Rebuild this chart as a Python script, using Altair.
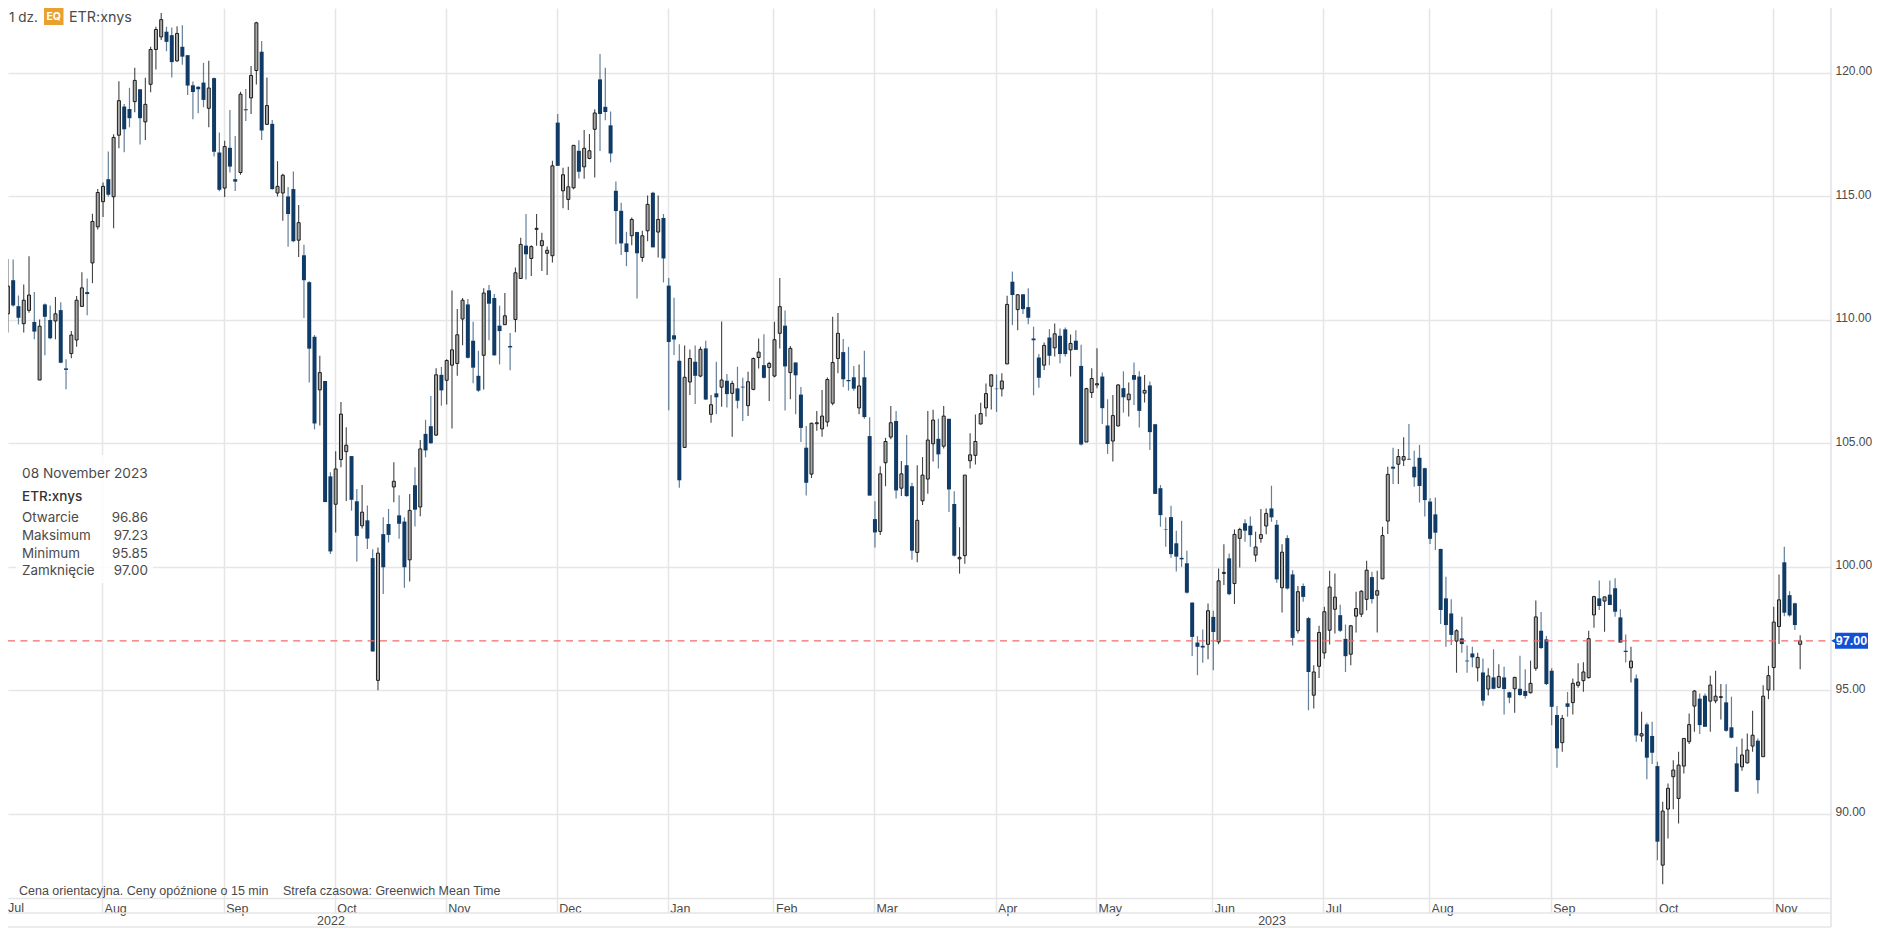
import json
import altair as alt
import pandas as pd

highs = [
115.3,114.99,112.46,112.44,110.98,111.43,112.57,111.12,110.01,110.66,
110.58,110.92,110.71,108.40,109.54,110.96,111.92,111.67,114.29,115.29,
115.56,116.81,117.51,119.65,118.73,119.39,120.20,119.34,119.80,121.05,
121.86,122.42,121.86,121.83,121.88,121.92,120.71,119.64,119.46,120.40,
120.48,119.81,117.58,117.25,118.49,117.44,119.23,119.34,120.27,122.06,
121.28,119.81,118.09,116.42,115.91,115.37,116.00,114.64,113.04,111.56,
109.38,108.54,107.52,103.83,104.68,106.67,105.65,104.48,103.15,103.31,
102.48,100.71,100.78,102.00,102.34,104.23,102.89,102.00,102.95,104.03,
105.13,105.95,106.91,108.04,108.09,108.40,111.18,110.43,110.88,110.84,
109.92,108.74,111.27,111.41,111.04,110.57,111.08,109.46,112.11,113.32,
114.28,113.02,114.28,113.52,112.96,116.44,118.33,116.15,116.19,117.07,
117.27,117.68,117.52,118.52,120.76,120.20,118.43,115.60,114.74,113.56,
114.14,113.56,113.60,115.03,115.18,115.03,114.28,111.69,110.89,109.01,
108.96,108.80,108.96,108.91,109.15,106.95,108.30,109.93,107.80,107.53,
108.10,107.65,107.89,108.47,109.24,109.41,108.30,109.92,111.69,110.37,
108.94,108.27,107.28,105.70,105.83,106.31,107.16,107.66,110.12,110.27,
109.22,108.90,108.13,108.19,108.74,106.05,102.65,104.07,105.22,106.51,
106.31,104.28,105.33,103.40,104.11,104.44,106.31,106.36,105.99,106.51,
105.99,103.06,101.60,103.71,105.40,106.16,106.64,107.42,107.78,107.78,
107.83,110.97,111.95,111.04,111.04,111.27,109.72,108.61,109.08,109.62,
109.85,109.65,109.69,109.40,109.57,108.99,107.25,108.04,108.85,107.86,
106.78,106.95,107.39,107.91,107.46,108.27,107.91,107.76,107.50,105.77,
103.31,102.00,102.47,101.46,101.86,100.65,98.55,97.19,97.46,98.51,
98.22,99.93,100.91,100.54,101.51,101.58,101.92,102.03,101.42,102.34,
102.36,103.28,101.89,100.91,101.28,99.86,99.22,99.32,97.97,96.01,
97.61,98.38,99.84,99.73,98.46,97.66,97.64,98.99,99.05,100.24,
99.80,99.84,101.62,104.05,104.82,104.77,105.24,105.78,104.70,104.93,
104.01,102.77,102.80,100.73,99.60,98.68,97.47,97.98,96.81,96.76,
96.52,96.29,95.89,96.66,96.05,95.95,94.94,95.55,96.40,95.85,
96.20,98.63,98.17,97.20,95.89,94.36,94.00,94.93,95.48,96.09,
96.13,97.41,98.83,99.44,98.79,99.44,99.53,98.28,97.26,96.76,
95.64,94.13,93.69,93.73,92.11,90.49,91.23,92.17,92.51,93.05,
94.06,95.01,94.87,94.87,95.59,95.79,95.25,95.24,94.74,92.71,
93.05,93.25,94.17,93.05,95.20,95.99,98.38,99.69,100.81,99.01,
98.54,97.23]

body_tops = [
115.2,114.70,111.36,111.60,110.55,110.79,111.00,109.91,109.74,110.62,
109.99,110.24,110.39,108.03,109.38,110.79,111.29,111.12,113.98,115.15,
115.40,115.69,117.38,118.87,118.63,118.53,119.69,119.33,118.72,120.94,
121.75,122.15,121.66,121.52,121.59,121.05,120.71,119.49,119.43,119.60,
119.38,119.78,116.77,117.01,116.96,115.69,119.13,118.52,119.89,122.02,
120.85,118.67,117.93,115.40,115.85,114.99,115.29,113.93,112.61,111.52,
109.31,107.86,107.52,103.66,103.96,106.18,104.92,104.48,102.65,102.21,
101.88,100.35,100.55,101.32,101.73,103.46,102.08,101.83,102.28,103.30,
104.77,105.38,105.69,107.77,107.77,108.35,108.78,109.39,110.79,110.62,
109.15,107.73,111.08,111.19,110.88,109.76,110.16,108.94,111.90,113.05,
113.00,112.96,113.70,113.20,112.81,116.23,117.98,115.87,115.38,117.06,
116.84,116.94,116.84,118.37,119.73,118.62,117.87,115.22,114.41,113.09,
114.06,113.55,113.40,114.67,115.14,114.06,114.12,111.38,109.37,108.34,
107.67,108.43,108.30,108.80,108.84,106.56,107.02,107.56,107.53,107.42,
107.22,107.29,107.49,108.43,108.69,108.16,108.23,109.19,110.53,109.76,
108.84,108.27,106.97,104.82,105.81,105.83,106.10,107.58,108.27,109.45,
108.69,107.56,107.67,107.32,107.67,105.29,101.93,103.76,105.07,105.83,
105.90,103.76,104.11,103.26,101.88,103.71,105.13,105.94,105.18,106.10,
105.99,102.54,100.38,103.71,104.53,105.07,106.20,107.01,107.77,107.21,
107.52,110.62,111.54,111.01,111.03,110.51,109.24,108.47,108.96,109.28,
109.43,109.35,109.61,109.04,109.15,108.13,107.21,107.62,107.41,107.70,
105.72,106.12,107.36,107.23,106.99,107.76,107.70,107.14,107.34,105.77,
103.18,101.51,102.01,100.95,100.36,100.14,98.55,96.93,96.80,98.22,
97.97,99.43,99.77,100.34,101.31,101.51,101.76,101.66,100.80,101.30,
102.16,102.36,101.70,100.59,101.16,99.69,98.99,99.22,97.92,95.74,
97.34,98.18,99.18,98.77,98.04,97.08,97.61,98.31,99.01,99.86,
99.58,99.03,101.26,103.74,104.05,104.46,104.46,104.37,104.05,104.41,
103.99,102.64,102.12,100.72,98.72,98.11,97.41,97.10,96.20,96.49,
96.33,95.72,95.58,95.52,95.56,95.52,94.92,95.52,95.06,94.97,
95.28,97.97,97.41,97.06,95.79,94.00,93.86,94.47,95.28,95.33,
95.74,97.09,98.79,98.72,98.78,98.87,99.13,97.95,96.60,96.18,
95.48,93.24,93.62,93.15,91.93,90.11,91.03,91.77,91.97,93.05,
93.61,94.97,94.66,94.78,95.21,94.76,94.74,94.51,93.50,92.04,
92.38,92.58,93.18,92.96,94.76,95.59,97.76,98.66,100.18,98.85,
98.52,97.00]

body_bottoms = [
112.9,109.77,110.24,110.58,110.08,109.84,110.38,109.52,107.56,110.12,
109.25,109.95,108.26,107.97,108.63,109.18,110.54,111.04,112.30,113.76,
114.78,115.06,114.98,117.47,117.71,118.16,118.83,118.16,118.01,119.53,
120.94,121.45,121.25,120.43,120.48,120.65,119.48,119.22,119.33,118.90,
118.56,116.80,115.26,115.33,116.20,115.59,115.96,118.48,118.98,120.09,
117.66,117.91,115.29,115.13,115.13,114.28,113.18,113.22,111.60,108.83,
105.80,107.16,102.62,100.62,102.53,104.34,104.66,102.71,101.25,101.66,
101.14,96.57,95.40,99.98,101.29,103.23,101.74,99.98,100.28,102.31,
102.42,104.71,105.00,105.33,107.14,107.55,108.16,108.23,110.03,108.46,
108.06,107.13,108.56,110.65,108.56,109.54,109.80,108.88,110.01,111.67,
112.65,112.48,113.66,113.00,112.69,112.59,116.23,115.22,114.87,115.34,
115.99,116.19,116.53,117.71,118.33,118.41,116.73,114.40,113.09,112.74,
113.40,112.69,112.52,113.60,112.93,113.55,112.48,109.10,109.20,103.50,
104.83,107.48,107.73,107.72,106.77,106.17,106.86,107.27,106.99,107.02,
106.72,107.26,106.52,107.18,108.47,107.65,108.07,107.72,109.45,108.11,
107.86,107.75,105.62,103.40,103.75,105.79,105.58,105.86,106.62,108.43,
107.59,107.51,107.21,106.43,106.06,102.88,101.39,101.43,104.21,105.25,
103.09,103.18,102.86,100.65,100.58,102.67,103.55,104.98,104.55,104.88,
103.13,100.45,100.32,100.45,104.29,104.51,105.78,106.43,107.31,107.19,
107.20,108.21,111.00,110.41,110.43,110.08,109.17,107.65,108.16,108.54,
108.86,108.61,108.61,108.78,108.78,104.95,105.05,107.05,107.36,106.42,
104.97,105.09,105.70,106.86,106.76,107.57,106.31,107.03,105.45,102.95,
102.09,101.49,100.51,100.41,100.30,98.95,97.16,96.76,96.73,96.86,
97.36,96.96,99.73,98.89,99.32,101.15,101.46,101.28,100.47,101.14,
101.65,102.00,99.49,99.15,99.12,97.12,97.41,98.78,95.74,94.80,
95.97,96.51,97.43,98.28,97.41,96.38,96.46,98.00,98.08,98.68,
98.69,98.85,99.51,101.85,103.97,104.15,104.32,104.34,103.62,103.27,
102.70,101.13,101.38,98.25,97.64,97.24,96.99,96.87,96.17,96.33,
95.91,94.58,95.05,95.06,95.12,95.05,94.70,95.06,94.81,94.77,
94.90,95.89,96.71,95.25,94.33,92.65,92.88,94.33,94.50,95.20,
95.39,95.51,98.05,98.41,98.61,98.45,98.18,96.93,96.55,95.91,
93.17,93.15,92.27,92.47,88.87,87.92,90.19,91.50,90.62,91.93,
92.92,94.36,93.59,93.52,94.56,94.57,94.71,93.36,93.08,90.89,
91.90,92.06,92.74,91.36,92.31,95.01,95.92,97.58,98.14,98.03,
97.64,96.86]

lows = [
112.8,108.36,109.48,110.53,109.81,109.48,110.28,109.21,107.56,108.56,
109.21,109.21,108.24,107.19,108.44,108.91,110.54,110.18,111.48,113.65,
114.16,114.99,113.70,116.94,116.78,117.79,118.40,117.09,117.28,119.21,
120.13,121.32,120.87,119.81,120.44,120.32,119.10,118.12,118.36,118.60,
117.79,116.61,115.20,114.97,115.96,115.21,115.87,118.05,118.33,119.52,
117.28,117.89,115.26,114.99,114.01,112.95,113.14,112.54,110.07,107.46,
105.56,105.72,102.61,100.52,101.39,104.03,102.66,102.27,100.21,101.55,
100.72,96.57,95.00,98.90,100.98,102.61,101.13,99.15,99.40,101.63,
102.04,104.43,104.98,105.29,106.52,106.57,105.60,107.73,108.97,108.43,
107.43,107.08,107.18,109.17,108.54,108.19,109.80,107.96,109.49,111.65,
111.63,111.77,113.00,111.97,111.81,112.32,116.23,114.51,114.44,115.28,
115.72,115.71,116.50,115.76,116.83,118.08,116.37,113.06,112.62,112.17,
113.02,110.86,112.35,113.18,112.93,112.52,111.51,106.34,108.57,103.2,
104.83,106.95,106.59,107.67,106.75,105.83,106.18,106.48,106.45,105.26,
106.41,105.90,106.10,107.15,108.03,107.62,106.71,107.67,108.84,106.33,
106.78,106.17,105.05,102.88,103.59,105.51,105.26,105.67,106.54,107.83,
107.28,107.13,107.13,106.17,105.99,102.88,100.78,101.29,103.26,105.16,
102.76,102.86,102.83,100.28,100.18,102.50,102.96,104.26,103.98,104.79,
102.22,100.42,99.72,100.12,103.98,104.14,105.76,106.08,106.37,106.27,
106.89,108.21,109.78,109.57,110.23,109.82,106.94,107.25,107.97,108.16,
108.51,108.24,108.51,107.70,108.78,104.91,105.05,106.83,107.23,105.78,
104.57,104.26,105.68,106.24,106.08,106.55,105.64,106.65,104.73,102.95,
101.62,100.81,100.36,99.81,100.00,98.92,96.39,95.61,96.11,96.26,
95.81,96.86,99.26,98.85,98.49,99.97,101.01,100.81,100.20,100.97,
101.32,101.82,99.35,98.15,99.08,96.81,97.30,98.58,94.19,94.26,
95.50,96.28,96.85,97.30,97.36,95.74,96.01,97.34,97.97,98.24,
98.51,97.34,99.51,101.33,103.35,103.35,104.08,104.32,103.24,102.60,
102.03,100.92,100.68,97.68,96.76,96.83,95.71,96.52,95.71,95.93,
95.35,94.37,94.79,95.04,95.08,94.02,94.47,94.09,94.77,94.67,
94.87,95.79,96.67,95.21,93.58,91.86,92.51,93.93,94.02,95.10,
94.94,95.48,97.53,98.25,97.37,98.45,97.98,96.93,96.12,95.31,
92.92,92.92,91.40,92.01,88.12,87.15,89.00,90.18,89.61,91.63,
92.82,93.32,93.23,93.52,93.32,94.47,93.82,93.32,93.05,90.89,
91.74,92.04,92.51,90.82,92.31,94.64,94.99,96.87,98.00,97.98,
97.44,95.85]

directions = (
"UDUDDUUDUD" "DUDDUUUDUU" "UDUUDDUDUU" "UUDDUDDDDD" "UDDUDDUDUU" "DUDUUDDUDD"
"DUDDUUUDDU" "DDUDDUDDUD" "UDDUDUUUUD" "DDUDDDUDUU" "DUUUUUDUUU" "DUUUDDDDDD"
"UDUUDUDDDD" "UUDUDUDUDU" "DDUUUDUUUD" "UDDDUUUUUU" "DDDUDDDUUU" "DUDDUUUUDU"
"DDUUUUUUUD" "UUDUDDDDUD" "UDDUDDUUUD" "DUUDUDDUDD" "DDDDDDDDDU" "DUUDUUDDUU"
"UDDUDDUDDU" "UUUUDDUUUU" "DUUUDUUDDD" "DDDDDDUDDD" "UDUDUDDUDD" "UUDDDDUDUU"
"UUUDUDDDDU" "DUDDDUUUUU" "UUDDUUUDDD" "UUUDUUUUDD" "DU"
)

month_bars = [20, 43, 64, 85, 106, 127, 147, 166, 189, 208, 230, 251, 271, 294, 314, 336]
month_names = ["Aug", "Sep", "Oct", "Nov", "Dec", "Jan", "Feb", "Mar", "Apr", "May",
               "Jun", "Jul", "Aug", "Sep", "Oct", "Nov"]
year_bars = [63.3, 241.3]
year_names = ["2022", "2023"]
price_ticks = [90, 95, 100, 105, 110, 115, 120]
last_close = 97.00

info_rows = ["Otwarcie", "Maksimum", "Minimum", "Zamknięcie"]
info_vals = ["96.86", "97.23", "95.85", "97.00"]

n = len(highs)
assert n == len(lows) == len(body_tops) == len(body_bottoms) == len(directions)
df = pd.DataFrame({"bar": range(n), "high": highs, "low": lows,
                   "top": body_tops, "bottom": body_bottoms, "dir": list(directions)})
up = df[df["dir"] == "U"]
down = df[df["dir"] == "D"]

PW, PH = 1823, 890
GRID = "#e6e6e6"
BORDER = "#e2e4ea"
NAVY = "#103b66"
TXT = "#4a4a4a"
SANS = "Liberation Sans"
UI = "Inter"

xs = alt.Scale(domain=[2.213, 347.02], nice=False, zero=False, padding=0)
ys = alt.Scale(domain=[86.59, 122.62], nice=False, zero=False, padding=0)
x_enc = alt.X("bar:Q", scale=xs, title=None)
y_high = alt.Y("high:Q", scale=ys, title=None)
y_top = alt.Y("top:Q", scale=ys, title=None)

x_axis = alt.Axis(
    values=month_bars, orient="bottom", grid=True, gridColor=GRID, gridWidth=1.6,
    domain=True, domainColor=GRID, domainWidth=1.5, ticks=True, tickColor=GRID, tickWidth=1.6,
    tickSize=15, labelPadding=-11, labelAlign="left", labelOffset=2, labelBaseline="top",
    labelFont=SANS, labelFontSize=12.5, labelColor=TXT, labelOverlap=False, labelFlush=False,
    labelBound=False, title=None,
    labelExpr="%s[indexof(%s, datum.value)]" % (json.dumps(month_names), json.dumps(month_bars)),
)
y_axis = alt.Axis(
    values=price_ticks, orient="right", grid=True, gridColor=GRID, gridWidth=1.6, domain=False,
    ticks=False, labelPadding=4, labelFont=SANS, labelFontSize=12, labelColor=TXT, format=".2f",
    labelOffset=-2, labelOverlap=False, labelBound=False, labelFlush=False, title=None,
)

grid = alt.Chart(df).mark_rule(opacity=0).encode(
    x=alt.X("bar:Q", scale=xs, axis=x_axis, title=None),
    y=alt.Y("high:Q", scale=ys, axis=y_axis, title=None),
)
wick_d = alt.Chart(down).mark_rule(color=NAVY, strokeWidth=1.2, opacity=0.65, clip=True, xOffset=1).encode(
    x=x_enc, y=y_high, y2="low:Q")
wick_u = alt.Chart(up).mark_rule(color="#222222", strokeWidth=1.1, opacity=0.85, clip=True, xOffset=1).encode(
    x=x_enc, y=y_high, y2="low:Q")
body_d = alt.Chart(down).mark_bar(size=4, color=NAVY, clip=True, xOffset=1).encode(
    x=x_enc, y=y_top, y2="bottom:Q")
body_u = alt.Chart(up).mark_bar(size=3, fill="#a8a8a8", stroke="#1c1c1c", strokeWidth=1, clip=True, xOffset=1).encode(
    x=x_enc, y=y_top, y2="bottom:Q")

last_df = pd.DataFrame({"p": [last_close], "label": ["%.2f" % last_close]})
last_line = alt.Chart(last_df).mark_rule(color="#f46a6a", strokeWidth=1.4, strokeDash=[7, 5.4]).encode(
    y=alt.Y("p:Q", scale=ys, title=None), x=alt.value(0), x2=alt.value(PW))

border = alt.Chart(last_df).mark_rule(color=BORDER, strokeWidth=1.6).encode(
    x=alt.value(PW), y=alt.value(-8), y2=alt.value(919))
row_line1 = alt.Chart(last_df).mark_rule(color=GRID, strokeWidth=1.5).encode(
    x=alt.value(0), x2=alt.value(PW), y=alt.value(905))
row_line2 = alt.Chart(last_df).mark_rule(color=GRID, strokeWidth=1.5).encode(
    x=alt.value(0), x2=alt.value(PW), y=alt.value(919))

price_box = alt.Chart(last_df).mark_rect(color="#1250d6", height=16).encode(
    x=alt.value(PW + 4), x2=alt.value(PW + 37), y=alt.Y("p:Q", scale=ys, title=None))
price_tri = alt.Chart(last_df).mark_point(shape="triangle-left", filled=True, color="#1250d6", size=40, opacity=1).encode(
    x=alt.value(PW + 3), y=alt.Y("p:Q", scale=ys, title=None))
price_txt = alt.Chart(last_df).mark_text(color="white", font=SANS, fontSize=12.5, fontWeight="bold", align="center", baseline="middle").encode(
    x=alt.value(PW + 20.5), y=alt.Y("p:Q", scale=ys, title=None), text="label:N")


def label(text, x, y, font=UI, size=13, color=TXT, weight="normal", align="left"):
    return alt.Chart(pd.DataFrame({"t": [text]})).mark_text(
        font=font, fontSize=size, color=color, fontWeight=weight, align=align, baseline="middle"
    ).encode(x=alt.value(x), y=alt.value(y), text="t:N")


year_df = pd.DataFrame({"bar": year_bars, "t": year_names})
years = alt.Chart(year_df).mark_text(font=SANS, fontSize=12.5, color=TXT, align="center", baseline="middle").encode(
    x=alt.X("bar:Q", scale=xs, title=None), y=alt.value(912.5), text="t:N")

badge = alt.Chart(last_df).mark_rect(color="#e9a02d").encode(
    x=alt.value(36), x2=alt.value(55.5), y=alt.value(0), y2=alt.value(17))
info_bg = alt.Chart(last_df).mark_rect(color="white", opacity=0.82).encode(
    x=alt.value(8), x2=alt.value(145), y=alt.value(447), y2=alt.value(575))

texts = [
    label("1 dz.", 1, 9.5, size=13.5),
    label("EQ", 45.7, 9, size=10.5, color="white", weight="bold", align="center"),
    label("ETR:xnys", 61, 10, size=14.3),
    label("08 November 2023", 14, 466, size=13.7),
    label("ETR:xnys", 14, 489, size=13.5, weight=500, color="#333333"),
    label("Cena orientacyjna. Ceny opóźnione o 15 min", 11, 883, font=SANS, size=12.5),
    label("Strefa czasowa: Greenwich Mean Time", 275, 883, font=SANS, size=12.5),
    label("Jul", 0, 899.5, font=SANS, size=12.5),
]
for k, (name, val) in enumerate(zip(info_rows, info_vals)):
    yy = [510, 528, 546, 563][k]
    texts.append(label(name, 14, yy, size=13.4))
    texts.append(label(val, 140, yy, size=13.4, align="right"))

chart = alt.layer(
    grid, info_bg, wick_d, wick_u, body_d, body_u, last_line, border, row_line1, row_line2,
    years, badge, price_box, price_tri, price_txt, *texts,
).properties(
    width=PW, height=PH, background="white",
    padding={"left": 0, "top": 0, "right": 41, "bottom": 32},
    autosize=alt.AutoSizeParams(type="none"),
).configure_view(strokeWidth=0)

chart.save("out.html", embed_options={"renderer": "svg", "actions": False})
